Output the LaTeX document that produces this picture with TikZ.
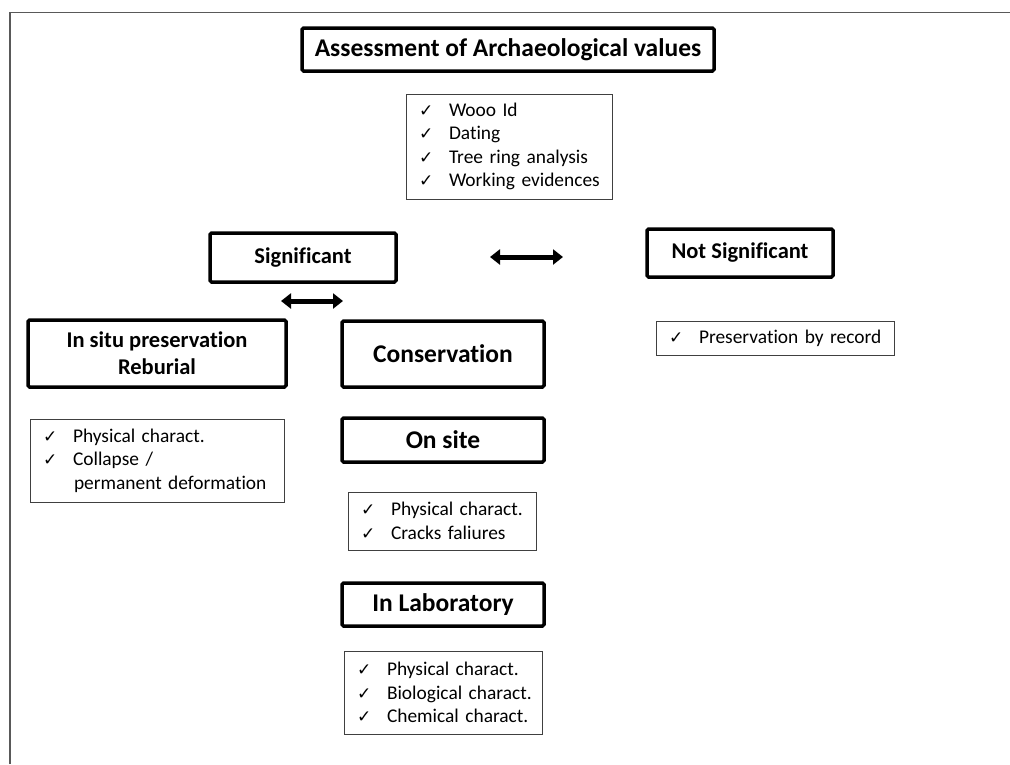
\documentclass[tikz,border=0pt]{standalone}
\usepackage{fontspec}
\setmainfont[Ligatures=NoCommon]{Carlito}
\newfontfamily\ckfont{DejaVu Sans}
\usetikzlibrary{arrows.meta, positioning}
\newcommand{\ckitem}[1]{\mbox{\makebox[30pt][l]{\ckfont\fontsize{17}{19}\selectfont\char"2713}#1}}
\tikzset{
  head/.style={rectangle, rounded corners=1.5pt, draw=black, line width=3.5pt,
               fill=white, align=center,
               font=\fontsize{22.5}{27}\selectfont\bfseries},
  bighead/.style={head, font=\fontsize{25.5}{30}\selectfont\bfseries},
  chk/.style={rectangle, draw=black!75, line width=0.9pt, fill=white,
              align=left, inner xsep=13pt, inner ysep=4pt,
              font=\fontsize{19.4}{23.4}\selectfont},
  dbl/.style={{Triangle[length=10pt,width=15pt]}-{Triangle[length=10pt,width=15pt]},
              line width=5pt},
}

\begin{document}
\begin{tikzpicture}[x=1pt, y=-1pt]
  \useasboundingbox (0,0) rectangle (1010,764);
  \draw[black!65, line width=1.6pt] (10,764) -- (10,12.5) -- (1010,12.5);

  \node[bighead, minimum width=412pt, minimum height=43pt] (asm) at (508,49.5)
        {Assessment of Archaeological values};
  \node[chk, text width=180pt, minimum height=105pt] (tests) at (509,146.5)
        {\ckitem{Wooo Id}\\\ckitem{Dating}\\\ckitem{Tree ring analysis}\\\ckitem{Working evidences}};

  \node[head, minimum width=186pt, minimum height=49pt] (sig) at (303,257.5) {Significant};
  \node[head, minimum width=186pt, minimum height=48pt] (nsig) at (740,253) {Not Significant};
  \coordinate (a1l) at (490,257);
  \coordinate (a1r) at (563,257);
  \draw[dbl] (a1l) -- (a1r);
  \coordinate (a2l) at (281,301);
  \coordinate (a2r) at (343,301);
  \draw[dbl] (a2l) -- (a2r);

  \node[head, minimum width=258pt, minimum height=67pt] (insitu) at (157,353.5)
        {In situ preservation\\Reburial};
  \node[bighead, minimum width=202pt, minimum height=66pt] (cons) at (443,354) {Conservation};
  \node[chk, text width=212pt, minimum height=34pt] (rec) at (775,338)
        {\ckitem{Preservation by record}};

  \node[chk, text width=228pt, minimum height=83pt] (lstl) at (157,460.5)
        {\ckitem{Physical charact.}\\\ckitem{Collapse /}\\\mbox{\hspace*{31pt}permanent deformation}};
  \node[bighead, minimum width=202pt, minimum height=44pt] (site) at (443,440) {On site};
  \node[chk, text width=162pt, minimum height=58pt] (lstm) at (442,521)
        {\ckitem{Physical charact.}\\\ckitem{Cracks faliures}};

  \node[bighead, minimum width=202pt, minimum height=43pt] (lab) at (443,604.5) {In Laboratory};
  \node[chk, text width=172pt, minimum height=83pt] (lstb) at (443,692.5)
        {\ckitem{Physical charact.}\\\ckitem{Biological charact.}\\\ckitem{Chemical charact.}};
\end{tikzpicture}
\end{document}
